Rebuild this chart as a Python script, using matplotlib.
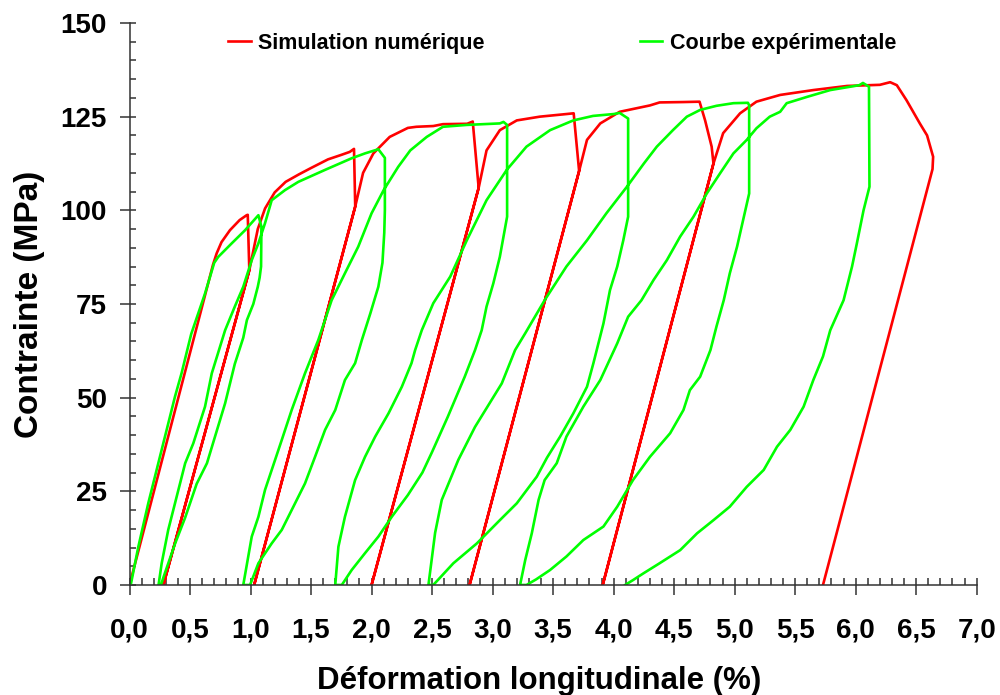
import numpy as np
import matplotlib.pyplot as plt
from matplotlib.ticker import MultipleLocator

plt.rcParams['font.family'] = ['Liberation Sans', 'DejaVu Sans']
plt.rcParams['font.weight'] = 'bold'

# --- simulation numérique (rouge) : chargement, décharges élastiques, recharges ---
sim_x = [0.0, 0.69, 0.72, 0.76, 0.83, 0.91, 0.968, 0.977,
         0.99, 0.28, 0.99,
         1.06, 1.12, 1.20, 1.29, 1.40, 1.50, 1.64, 1.75, 1.82, 1.855,
         1.865, 1.03, 1.865,
         1.93, 2.015, 2.15, 2.30, 2.37, 2.51, 2.59, 2.79, 2.836,
         2.885, 2.0, 2.885,
         2.95, 3.06, 3.20, 3.39, 3.61, 3.67,
         3.715, 2.81, 3.715,
         3.78, 3.89, 4.05, 4.30, 4.38, 4.575, 4.71,
         4.756, 4.81, 4.825, 3.91, 4.825,
         4.905, 5.045, 5.18, 5.376, 5.65, 5.93, 6.20, 6.285, 6.34, 6.42,
         6.53, 6.59, 6.64, 6.635, 5.73]
sim_y = [0.0, 85.5, 88.5, 91.5, 94.7, 97.4, 98.7, 98.8,
         84.0, 0.0, 84.0,
         95.0, 100.5, 104.8, 107.6, 109.6, 111.3, 113.6, 114.8, 115.6, 116.4,
         101.0, 0.0, 101.0,
         110.0, 115.2, 119.6, 122.0, 122.3, 122.5, 123.0, 123.1, 123.7,
         106.0, 0.0, 106.0,
         116.0, 121.4, 124.0, 125.0, 125.7, 125.9,
         110.5, 0.0, 110.5,
         118.8, 123.2, 126.3, 128.0, 128.8, 128.9, 129.0,
         124.0, 117.0, 112.5, 0.0, 112.5,
         120.6, 125.9, 129.0, 130.8, 132.1, 133.2, 133.5, 134.2, 133.4, 129.4,
         123.2, 120.0, 114.3, 111.0, 0.0]

# --- courbe expérimentale (vert), branche par branche ---
g_load_x = [0.01, 0.073, 0.155, 0.238, 0.293, 0.376, 0.43, 0.51, 0.624, 0.70,
            0.734, 0.845, 0.955, 1.065]
g_load_y = [0.0, 10.2, 21.8, 32.5, 39.6, 50.3, 56.5, 67.0, 77.8, 86.0,
            87.6, 91.2, 94.7, 98.7]

g_unl1_x = [1.09, 1.087, 1.075, 1.06, 1.023, 0.97, 0.94, 0.87, 0.79, 0.64,
            0.555, 0.46, 0.376, 0.28, 0.26]
g_unl1_y = [95.6, 85.0, 82.0, 79.6, 75.0, 70.7, 66.0, 59.0, 48.5, 32.5,
            27.0, 18.0, 11.0, 2.0, 0.0]
g_rel1_x = [0.24, 0.266, 0.32, 0.376, 0.46, 0.527, 0.624, 0.68, 0.79, 0.87,
            0.94, 1.01, 1.065, 1.12, 1.175, 1.285, 1.395, 1.616, 1.836, 1.946, 2.056]
g_rel1_y = [0.0, 5.8, 14.7, 21.8, 32.5, 37.8, 47.6, 56.5, 68.0, 74.3,
            79.6, 86.7, 91.2, 96.6, 102.7, 105.4, 107.6, 110.8, 113.9, 115.2, 116.3]

g_unl2_x = [2.11, 2.11, 2.105, 2.09, 2.056, 1.99, 1.92, 1.864, 1.78, 1.70,
            1.616, 1.533, 1.45, 1.34, 1.258, 1.175, 1.065, 0.996]
g_unl2_y = [114.0, 100.0, 94.0, 86.0, 79.6, 72.5, 65.4, 59.2, 54.7, 46.7,
            41.4, 34.2, 27.1, 20.0, 14.7, 11.1, 5.8, 0.0]
g_rel2_x = [0.94, 1.01, 1.065, 1.12, 1.175, 1.258, 1.34, 1.45, 1.56, 1.67,
            1.78, 1.89, 2.0, 2.10, 2.22, 2.32, 2.456, 2.59, 2.787, 3.06, 3.09]
g_rel2_y = [0.0, 12.9, 18.2, 25.4, 30.7, 38.7, 46.7, 56.5, 65.4, 76.0,
            83.2, 90.3, 99.2, 105.4, 111.6, 116.0, 119.6, 122.3, 122.8, 123.2, 123.6]

g_unl3_x = [3.12, 3.12, 3.06, 3.006, 2.95, 2.91, 2.855, 2.77, 2.63, 2.50,
            2.42, 2.30, 2.167, 2.056, 1.946, 1.836, 1.754]
g_unl3_y = [122.8, 98.3, 87.6, 80.5, 74.3, 68.0, 62.7, 55.6, 44.9, 35.5,
            30.0, 24.0, 18.2, 12.9, 8.5, 4.0, 0.0]
g_rel3_x = [1.70, 1.726, 1.78, 1.864, 1.946, 2.03, 2.14, 2.25, 2.33, 2.36,
            2.415, 2.51, 2.65, 2.787, 2.95, 3.117, 3.28, 3.475, 3.667, 3.83, 4.0, 4.05]
g_rel3_y = [0.0, 10.2, 18.2, 28.0, 34.2, 39.6, 45.8, 52.9, 59.2, 62.7,
            68.0, 75.2, 82.3, 92.0, 102.7, 110.8, 117.0, 121.4, 124.0, 125.2, 125.7, 126.0]

g_unl4_x = [4.12, 4.12, 4.08, 4.03, 3.97, 3.916, 3.833, 3.78, 3.667, 3.558,
            3.45, 3.365, 3.2, 3.06, 2.87, 2.676, 2.51]
g_unl4_y = [124.5, 98.3, 92.0, 85.0, 78.7, 69.8, 59.2, 52.9, 45.8, 39.6,
            34.0, 28.9, 21.8, 17.3, 11.1, 5.8, 0.0]
g_rel4_x = [2.47, 2.525, 2.58, 2.717, 2.855, 3.076, 3.186, 3.27, 3.43, 3.61,
            3.78, 3.94, 4.11, 4.25, 4.357, 4.49, 4.605, 4.715, 4.85, 4.99, 5.11]
g_rel4_y = [0.0, 13.9, 22.7, 33.4, 42.2, 53.8, 62.7, 67.2, 76.0, 85.0,
            92.0, 99.2, 106.3, 112.5, 117.0, 121.4, 125.0, 126.8, 127.9, 128.6, 128.7]

g_unl5_x = [5.12, 5.12, 5.07, 5.02, 4.96, 4.91, 4.85, 4.80, 4.715, 4.63,
            4.577, 4.467, 4.30, 4.16, 4.03, 3.916, 3.75, 3.61, 3.475, 3.36, 3.28]
g_unl5_y = [128.0, 104.5, 97.4, 90.3, 83.2, 76.0, 69.0, 62.7, 55.6, 52.0,
            46.7, 40.5, 34.2, 28.0, 20.9, 15.6, 12.0, 7.6, 4.0, 1.5, 0.0]
g_rel5_x = [3.227, 3.27, 3.324, 3.38, 3.43, 3.53, 3.61, 3.75, 3.89, 4.03,
            4.12, 4.23, 4.33, 4.44, 4.55, 4.66, 4.77, 4.88, 4.99, 5.10,
            5.18, 5.29, 5.376, 5.43, 5.60, 5.79, 6.03, 6.06]
g_rel5_y = [0.0, 6.7, 13.8, 22.7, 28.0, 32.5, 39.6, 47.6, 54.7, 64.5,
            71.6, 76.0, 81.4, 86.7, 93.0, 98.3, 104.5, 109.9, 115.2, 118.8,
            121.9, 125.0, 126.3, 128.6, 130.3, 132.1, 133.4, 134.0]

g_unl6_x = [6.11, 6.114, 6.065, 6.01, 5.97, 5.90, 5.79, 5.73, 5.65, 5.57,
            5.46, 5.35, 5.24, 5.10, 4.96, 4.825, 4.69, 4.55, 4.38, 4.246, 4.16, 4.095]
g_unl6_y = [133.0, 106.3, 100.0, 91.2, 85.0, 76.0, 68.0, 61.0, 54.7, 47.6,
            41.4, 36.9, 30.7, 26.2, 20.9, 17.3, 13.8, 9.3, 5.8, 3.1, 1.3, 0.0]

x_ticks = [0.0, 0.5, 1.0, 1.5, 2.0, 2.5, 3.0, 3.5, 4.0, 4.5, 5.0, 5.5, 6.0, 6.5, 7.0]
x_tick_labels = ['0,0', '0,5', '1,0', '1,5', '2,0', '2,5', '3,0', '3,5',
                 '4,0', '4,5', '5,0', '5,5', '6,0', '6,5', '7,0']
y_ticks = [0, 25, 50, 75, 100, 125, 150]
y_tick_labels = ['0', '25', '50', '75', '100', '125', '150']

exp_x = np.concatenate([g_load_x, g_unl1_x, g_rel1_x, g_unl2_x, g_rel2_x,
                        g_unl3_x, g_rel3_x, g_unl4_x, g_rel4_x, g_unl5_x,
                        g_rel5_x, g_unl6_x])
exp_y = np.concatenate([g_load_y, g_unl1_y, g_rel1_y, g_unl2_y, g_rel2_y,
                        g_unl3_y, g_rel3_y, g_unl4_y, g_rel4_y, g_unl5_y,
                        g_rel5_y, g_unl6_y])

fig = plt.figure(figsize=(10, 6.95), dpi=100)
ax = fig.add_axes([0.1295, 0.1583, 0.8472, 0.8086])

ax.plot(sim_x, sim_y, color='#ff0000', lw=1.9, label='Simulation numérique')
ax.plot(exp_x, exp_y, color='#00ff00', lw=1.9, label='Courbe expérimentale')

ax.set_xlim(0, 7)
ax.set_ylim(0, 150)
ax.set_xticks(x_ticks, x_tick_labels)
ax.set_yticks(y_ticks, y_tick_labels)
ax.xaxis.set_minor_locator(MultipleLocator(0.1))
ax.yaxis.set_minor_locator(MultipleLocator(5))
ax.xaxis.remove_overlapping_locs = False
ax.yaxis.remove_overlapping_locs = False

for s in ['top', 'right']:
    ax.spines[s].set_visible(False)
for s in ['left', 'bottom']:
    ax.spines[s].set_linewidth(1.1)
    ax.spines[s].set_color('#333333')

ax.tick_params(which='major', direction='out', length=7.2, width=1.1, color='#333333')
ax.tick_params(which='minor', direction='in', length=5.2, width=1.1, color='#333333')
ax.tick_params(axis='y', which='minor', length=4.5)
ax.tick_params(axis='x', which='major', pad=16, labelsize=20)
ax.tick_params(axis='y', which='major', pad=9, labelsize=20)

fig.text(0.030, 0.5626, 'Contrainte (MPa)', rotation=90, ha='center', va='center',
         fontsize=24, fontweight='bold')
fig.text(0.539, 0.009, 'Déformation longitudinale (%)', ha='center', va='baseline',
         fontsize=22.5, fontweight='bold')

ax.legend(loc='center left', bbox_to_anchor=(0.228, 0.938), bbox_transform=fig.transFigure,
          ncol=2, frameon=False, prop={'weight': 'bold', 'size': 15.5},
          handlelength=1.05, handletextpad=0.35, columnspacing=7.2,
          borderpad=0, borderaxespad=0)

fig.savefig('out.png', dpi=100)
